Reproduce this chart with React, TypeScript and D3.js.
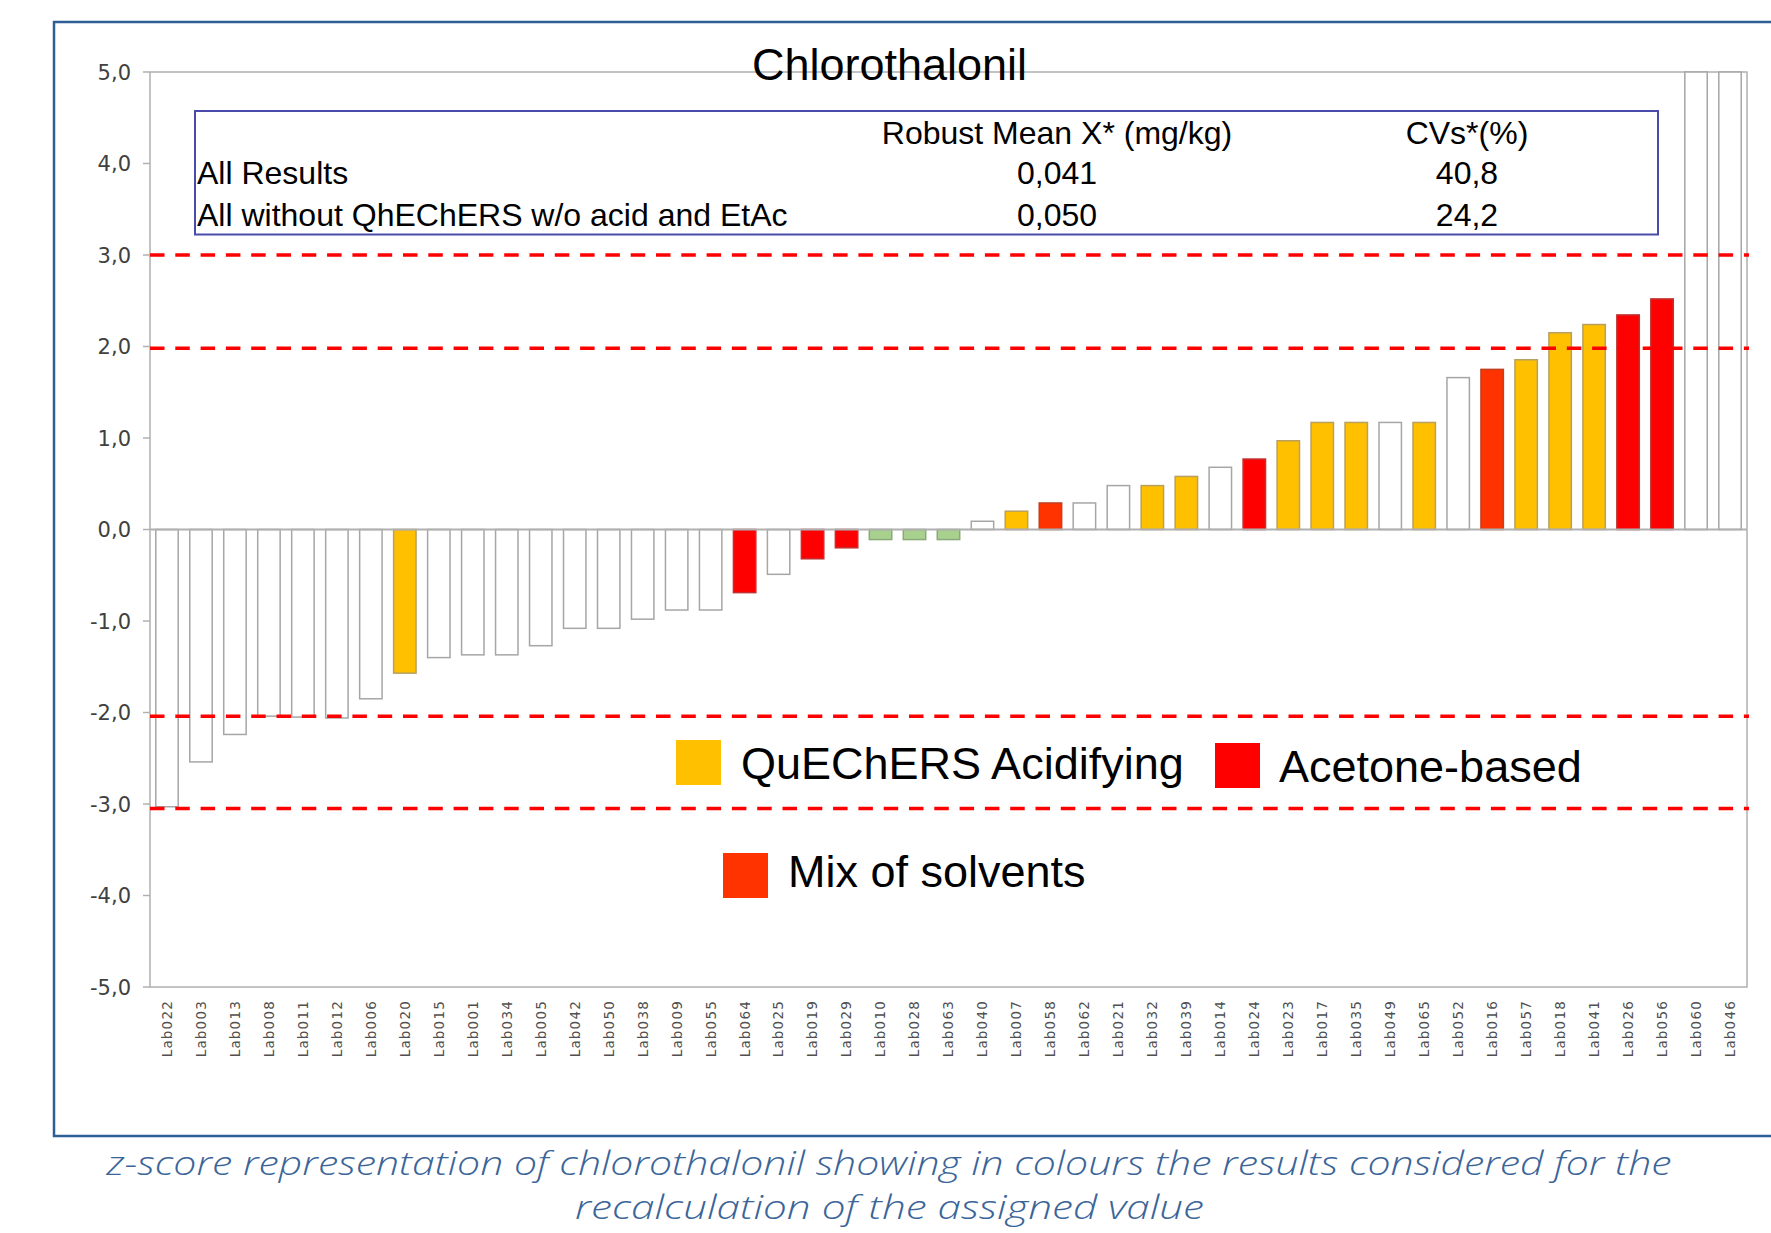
import React from "react";
import * as d3 from "d3";

const labs: string[] = [
  "Lab022", "Lab003", "Lab013", "Lab008", "Lab011", "Lab012", "Lab006", "Lab020",
  "Lab015", "Lab001", "Lab034", "Lab005", "Lab042", "Lab050", "Lab038", "Lab009",
  "Lab055", "Lab064", "Lab025", "Lab019", "Lab029", "Lab010", "Lab028", "Lab063",
  "Lab040", "Lab007", "Lab058", "Lab062", "Lab021", "Lab032", "Lab039", "Lab014",
  "Lab024", "Lab023", "Lab017", "Lab035", "Lab049", "Lab065", "Lab052", "Lab016",
  "Lab057", "Lab018", "Lab041", "Lab026", "Lab056", "Lab060", "Lab046",
];

const zScores: number[] = [
  -3.03, -2.54, -2.24, -2.04, -2.05, -2.06, -1.85, -1.57,
  -1.40, -1.37, -1.37, -1.27, -1.08, -1.08, -0.98, -0.88,
  -0.88, -0.69, -0.49, -0.32, -0.20, -0.11, -0.11, -0.11,
  0.09, 0.20, 0.29, 0.29, 0.48, 0.48, 0.58, 0.68,
  0.77, 0.97, 1.17, 1.17, 1.17, 1.17, 1.66, 1.75,
  1.855, 2.15, 2.24, 2.345, 2.52, 5.0, 5.0,
];

const groups: string[] = [
  "none", "none", "none", "none", "none", "none", "none", "quechers",
  "none", "none", "none", "none", "none", "none", "none", "none",
  "none", "acetone", "none", "acetone", "acetone", "green", "green", "green",
  "none", "quechers", "mix", "none", "none", "quechers", "quechers", "none",
  "acetone", "quechers", "quechers", "quechers", "none", "quechers", "none", "mix",
  "quechers", "quechers", "quechers", "acetone", "acetone", "none", "none",
];

const yTicks: number[] = [5, 4, 3, 2, 1, 0, -1, -2, -3, -4, -5];
const limitLines: number[] = [3.0, 1.98, -2.04, -3.05];

const tableHeader: string[] = ["", "Robust Mean X* (mg/kg)", "CVs*(%)"];
const tableRows: string[][] = [
  ["All Results", "0,041", "40,8"],
  ["All without QhEChERS w/o acid and EtAc", "0,050", "24,2"],
];

const legendItems = [
  { key: "quechers", label: "QuEChERS Acidifying" },
  { key: "acetone", label: "Acetone-based" },
  { key: "mix", label: "Mix of solvents" },
];

const fills: Record<string, string> = {
  none: "#FFFFFF",
  quechers: "#FFC000",
  acetone: "#FF0000",
  mix: "#FF3300",
  green: "#A9D18E",
};
const strokes: Record<string, string> = {
  none: "#A6A6A6",
  quechers: "#B8A060",
  acetone: "#C03030",
  mix: "#C04020",
  green: "#8AA87A",
};

const captionLines: string[] = [
  "z-score representation of chlorothalonil showing in colours the results considered for the",
  "recalculation of the assigned value",
];

export default function App() {
  const W = 1771;
  const H = 1233;
  const left = 150;
  const right = 1747;
  const top = 72;
  const bottom = 987;

  const x = d3
    .scaleBand<string>()
    .domain(labs)
    .range([left, right])
    .paddingInner(0.34)
    .paddingOuter(0.17);
  const y = d3.scaleLinear().domain([-5, 5]).range([bottom, top]);

  const fmt = (v: number) => d3.format(".1f")(v).replace(".", ",").replace("−", "-");

  const axisFont = "'DejaVu Sans', Verdana, sans-serif";
  const arial = "'Liberation Sans', Arial, sans-serif";

  const legendPos: Record<string, { sx: number; sy: number; tx: number; ty: number }> = {
    quechers: { sx: 676, sy: 740, tx: 741, ty: 779 },
    acetone: { sx: 1215, sy: 743, tx: 1279, ty: 782 },
    mix: { sx: 723, sy: 853, tx: 788, ty: 887 },
  };

  const colX = [197, 1057, 1467];
  const rowY = [144, 184, 226];

  return (
    <svg
      width={W}
      height={H}
      style={{ position: "absolute", left: 0, top: 0, display: "block", background: "#fff" }}
    >
      {/* outer frame */}
      <rect x={54} y={22} width={W} height={1114} fill="none" stroke="#2E5E96" strokeWidth={2.5} />

      {/* plot area border */}
      <rect x={left} y={top} width={right - left} height={bottom - top} fill="none" stroke="#B0B0B0" strokeWidth={1.5} />

      {/* y ticks */}
      {yTicks.map((t) => (
        <g key={t}>
          <line x1={left - 7} x2={left} y1={y(t)} y2={y(t)} stroke="#B0B0B0" strokeWidth={1.5} />
          <text
            x={131}
            y={y(t)}
            dy="0.36em"
            textAnchor="end"
            fontFamily={axisFont}
            fontSize={21}
            fill="#404040"
          >
            {fmt(t)}
          </text>
        </g>
      ))}

      {/* bars */}
      {labs.map((lab, i) => {
        const v = Math.max(-5, Math.min(5, zScores[i]));
        const y0 = y(0);
        const y1 = y(v);
        const g = groups[i];
        return (
          <rect
            key={lab}
            x={x(lab)!}
            y={Math.min(y0, y1)}
            width={x.bandwidth()}
            height={Math.abs(y1 - y0)}
            fill={fills[g]}
            stroke={strokes[g]}
            strokeWidth={1.5}
          />
        );
      })}

      {/* zero line */}
      <line x1={left} x2={right} y1={y(0)} y2={y(0)} stroke="#B0B0B0" strokeWidth={2} />

      {/* limit lines */}
      {limitLines.map((l) => (
        <line
          key={l}
          x1={left}
          x2={right + 2}
          y1={y(l)}
          y2={y(l)}
          stroke="#FF0000"
          strokeWidth={3.5}
          strokeDasharray="14.5,10.8"
        />
      ))}

      {/* x labels */}
      {labs.map((lab) => (
        <text
          key={lab}
          transform={`translate(${x(lab)! + x.bandwidth() / 2},1000) rotate(-90)`}
          dy="0.36em"
          textAnchor="end"
          fontFamily={axisFont}
          fontSize={13.5}
          letterSpacing={1.2}
          fill="#505050"
        >
          {lab}
        </text>
      ))}

      {/* title */}
      <text x={889.5} y={80} textAnchor="middle" fontFamily={arial} fontSize={45} fill="#000">
        Chlorothalonil
      </text>

      {/* stats table */}
      <rect x={195} y={111} width={1463} height={123.5} fill="#fff" stroke="#4A4AAA" strokeWidth={2} />
      {[tableHeader, ...tableRows].map((row, ri) =>
        row.map((cell, ci) => (
          <text
            key={`${ri}-${ci}`}
            x={colX[ci]}
            y={rowY[ri]}
            textAnchor={ci === 0 ? "start" : "middle"}
            fontFamily={arial}
            fontSize={32}
            fill="#000"
          >
            {cell}
          </text>
        ))
      )}

      {/* legend */}
      {legendItems.map((it) => {
        const p = legendPos[it.key];
        return (
          <g key={it.key}>
            <rect x={p.sx} y={p.sy} width={45} height={45} fill={fills[it.key]} />
            <text x={p.tx} y={p.ty} fontFamily={arial} fontSize={45} fill="#000">
              {it.label}
            </text>
          </g>
        );
      })}

      {/* caption */}
      <text
        x={889}
        y={1175}
        textAnchor="middle"
        fontFamily="'Open Sans', 'DejaVu Sans', sans-serif"
        fontStyle="italic"
        fontWeight={300}
        fontSize={33}
        fill="#3B6598"
        textLength={1565}
        lengthAdjust="spacingAndGlyphs"
      >
        {captionLines[0]}
      </text>
      <text
        x={889.5}
        y={1219}
        textAnchor="middle"
        fontFamily="'Open Sans', 'DejaVu Sans', sans-serif"
        fontStyle="italic"
        fontWeight={300}
        fontSize={33}
        fill="#3B6598"
        textLength={629}
        lengthAdjust="spacingAndGlyphs"
      >
        {captionLines[1]}
      </text>
    </svg>
  );
}
